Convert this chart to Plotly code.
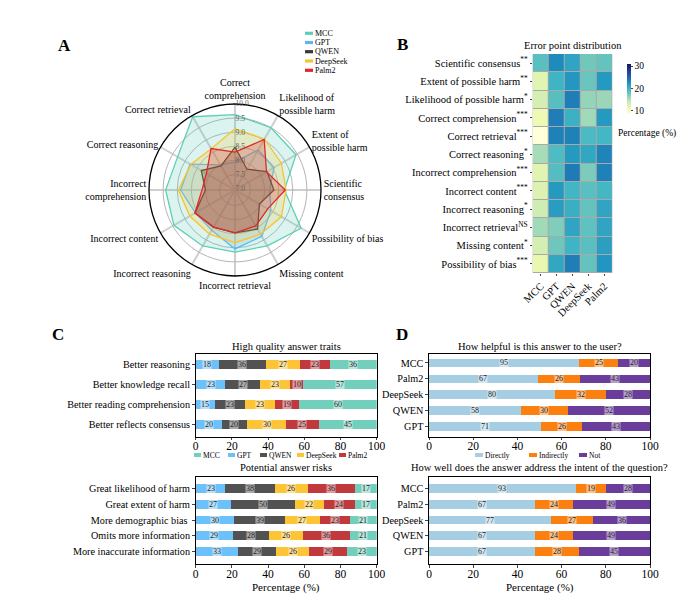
import plotly.graph_objects as go

# page body adds 8px margin; figure sized to fit the 693x612 window
OX, OY = 8, 8
W, H = 677, 596
SERIF = "Liberation Serif"


def X(px):
    return (px - OX) / W


def Y(py):
    return 1 - (py - OY) / H


# ---------------- Panel A data (radar) ----------------
models = ["MCC", "GPT", "QWEN", "DeepSeek", "Palm2"]
radar_categories = ["Correct<br>comprehension", "Likelihood of<br>possible harm", "Extent of<br>possible harm",
                    "Scientific<br>consensus", "Possibility of bias", "Missing content", "Incorrect retrieval",
                    "Incorrect reasoning", "Incorrect content", "Incorrect<br>comprehension",
                    "Correct reasoning", "Correct retrieval"]
radar_mcc = [9.62, 9.5, 9.45, 8.7, 9.66, 9.24, 9.15, 9.24, 9.45, 9.41, 9.3, 9.95]
radar_gpt = [7.94, 8.59, 8.55, 8.18, 8.42, 8.85, 9.04, 8.6, 8.57, 8.88, 8.79, 7.98]
radar_qwen = [8.47, 7.8, 8.26, 8.33, 7.95, 8.55, 8.47, 8.47, 8.59, 8.0, 8.33, 7.94]
radar_deepseek = [9.12, 9.04, 8.85, 8.76, 8.85, 8.76, 8.82, 8.76, 8.8, 8.96, 8.76, 8.64]
radar_palm2 = [8.29, 9.02, 8.24, 8.73, 8.29, 8.42, 8.47, 8.47, 8.59, 8.12, 8.12, 8.65]
radar_ticks = [7.0, 7.5, 8.0, 8.5, 9.0, 9.5, 10.0]

# ---------------- Panel B data (heatmap) ----------------
heat_rows = ["Scientific consensus<sup>**</sup>", "Extent of possible harm<sup>**</sup>",
             "Likelihood of possible harm<sup>*</sup>", "Correct comprehension<sup>***</sup>",
             "Correct retrieval<sup>***</sup>", "Correct reasoning<sup>*</sup>",
             "Incorrect comprehension<sup>***</sup>", "Incorrect content<sup>***</sup>",
             "Incorrect reasoning<sup>*</sup>", "Incorrect retrieval<sup>NS</sup>",
             "Missing content<sup>*</sup>", "Possibility of bias<sup>***</sup>"]
heat_mcc = [18.5, 12, 13, 11, 8.4, 15.3, 12, 12.5, 13.5, 15.5, 13, 11.4]
heat_gpt = [22.8, 19.8, 18.6, 23.5, 23.3, 19, 18.8, 21.8, 21.6, 16.8, 17.6, 20.8]
heat_qwen = [21, 22, 23.5, 20, 23.3, 21.8, 23.7, 19.6, 20.2, 21, 19.8, 23.5]
heat_deepseek = [17.5, 17.8, 16, 15.5, 19.2, 20.8, 17, 18.5, 18, 18.3, 18.5, 18]
heat_palm2 = [18, 21.8, 15.8, 21.8, 19.5, 23.2, 23.3, 19.5, 21, 21, 21.4, 22.1]
heat_ticks = [10, 20, 30]

# ---------------- Panel C data ----------------
bar_models = ["GPT", "QWEN", "DeepSeek", "Palm2", "MCC"]
traits_cats = ["Better reasoning", "Better knowledge recall", "Better reading comprehension", "Better reflects consensus"]
traits_gpt = [18, 23, 15, 20]
traits_qwen = [36, 27, 23, 20]
traits_deepseek = [27, 23, 23, 30]
traits_palm2 = [23, 10, 19, 25]
traits_mcc = [36, 57, 60, 45]

risks_cats = ["Great likelihood of harm", "Great extent of harm", "More demographic bias ",
              "Omits more information", "More inaccurate information"]
risks_gpt = [23, 27, 30, 29, 33]
risks_qwen = [38, 50, 39, 28, 29]
risks_deepseek = [26, 22, 27, 26, 26]
risks_palm2 = [36, 24, 23, 36, 29]
risks_mcc = [17, 17, 21, 21, 23]

# ---------------- Panel D data ----------------
d_models = ["MCC", "Palm2", "DeepSeek", "QWEN", "GPT"]
d_levels = ["Directly", "Indirectly", "Not"]
help_directly = [95, 67, 80, 58, 71]
help_indirectly = [25, 26, 32, 30, 26]
help_not = [20, 43, 28, 52, 43]
intent_directly = [93, 67, 77, 67, 67]
intent_indirectly = [19, 24, 27, 24, 28]
intent_not = [28, 49, 36, 49, 45]
pct_ticks = [0, 20, 40, 60, 80, 100]

# ---------------- styles ----------------
radar_line = {"MCC": "#5ecfb6", "GPT": "#5eb4f2", "QWEN": "#3a3a3a", "DeepSeek": "#f8c330", "Palm2": "#e0282c"}
radar_fill = {"MCC": "rgba(94,207,182,0.22)", "GPT": "rgba(94,180,242,0.22)", "QWEN": "rgba(70,70,70,0.3)",
              "DeepSeek": "rgba(248,195,48,0.22)", "Palm2": "rgba(224,40,44,0.25)"}
bar_color = {"MCC": "#72cfbc", "GPT": "#6cc1fb", "QWEN": "#525252", "DeepSeek": "#fdc536", "Palm2": "#c1393d"}
d_color = {"Directly": "#a6cee3", "Indirectly": "#fb8010", "Not": "#6a3d9a"}

fig = go.Figure()
annos = []
shapes = []

# ---- Radar ----
radar_vals = {"MCC": radar_mcc, "GPT": radar_gpt, "QWEN": radar_qwen, "DeepSeek": radar_deepseek, "Palm2": radar_palm2}
for m in models:
    v = radar_vals[m]
    fig.add_trace(go.Scatterpolar(
        r=v + [v[0]], theta=radar_categories + [radar_categories[0]], name=m, mode="lines",
        line=dict(color=radar_line[m], width=1.3), fill="toself", fillcolor=radar_fill[m],
        subplot="polar", showlegend=False))

# ---- Heatmap ----
heat_cols = [heat_mcc, heat_gpt, heat_qwen, heat_deepseek, heat_palm2]
z = [[heat_cols[j][i] for j in range(len(models))] for i in range(len(heat_rows))]
ylgnbu = [[0.0, "#ffffd9"], [0.125, "#edf8b1"], [0.25, "#c7e9b4"], [0.375, "#7fcdbb"], [0.5, "#41b6c4"],
          [0.625, "#1d91c0"], [0.75, "#225ea8"], [0.875, "#253494"], [1.0, "#081d58"]]
fig.add_trace(go.Heatmap(
    z=z, x=models, y=heat_rows, xaxis="x2", yaxis="y2", colorscale=ylgnbu, zmin=8.4, zmax=30.9,
    xgap=1, ygap=1, showscale=True,
    colorbar=dict(x=X(616.5), xanchor="left", y=Y(54), yanchor="top", len=70 / H, lenmode="fraction",
                  thickness=4, outlinewidth=0, tickvals=heat_ticks, ticks="outside", ticklen=2,
                  tickfont=dict(family=SERIF, size=9.5, color="black"))))
annos.append(dict(x=X(616), y=Y(134), xref="paper", yref="paper", text="Percentage (%)", showarrow=False,
                  xanchor="left", yanchor="middle", font=dict(family=SERIF, size=9.5, color="black")))


# ---- Stacked bars helper ----
def add_stack(cats, series, names, colors, xa, ya, width):
    totals = [sum(vals[i] for vals in series) for i in range(len(cats))]
    left = [0.0] * len(cats)
    for vals, nm in zip(series, names):
        pct = [vals[i] / totals[i] * 100 for i in range(len(cats))]
        fig.add_trace(go.Bar(x=pct, y=cats, orientation="h", name=nm, marker=dict(color=colors[nm], line=dict(width=0)),
                             width=width, xaxis=xa, yaxis=ya, showlegend=False))
        for i in range(len(cats)):
            annos.append(dict(x=left[i] + pct[i] / 2, y=cats[i], xref=xa, yref=ya, text=str(vals[i]), showarrow=False,
                              font=dict(family=SERIF, size=8, color="#222"), bgcolor="rgba(255,255,255,0.5)",
                              borderpad=0))
            left[i] += pct[i]


add_stack(traits_cats, [traits_gpt, traits_qwen, traits_deepseek, traits_palm2, traits_mcc], bar_models,
          bar_color, "x3", "y3", 0.45)
add_stack(risks_cats, [risks_gpt, risks_qwen, risks_deepseek, risks_palm2, risks_mcc], bar_models,
          bar_color, "x4", "y4", 0.55)
add_stack(d_models, [help_directly, help_indirectly, help_not], d_levels, d_color, "x5", "y5", 0.55)
add_stack(d_models, [intent_directly, intent_indirectly, intent_not], d_levels, d_color, "x6", "y6", 0.55)


# ---- Manual legends (swatch + label) ----
def legend_item(x_sw, y, color, label, fs, sw_w=8, sw_h=3.5):
    shapes.append(dict(type="rect", xref="paper", yref="paper", x0=X(x_sw), x1=X(x_sw + sw_w),
                       y0=Y(y + sw_h / 2), y1=Y(y - sw_h / 2), fillcolor=color, line=dict(width=0)))
    annos.append(dict(x=X(x_sw + sw_w + 1), y=Y(y), xref="paper", yref="paper", text=label, showarrow=False,
                      xanchor="left", yanchor="middle", borderpad=0, font=dict(family=SERIF, size=fs, color="black")))


for m, yy in zip(models, [33.3, 42.5, 51.7, 61, 70.3]):
    legend_item(305, yy, radar_line[m], m, 8, sw_w=8, sw_h=3.2)
for m, xx in zip(models, [194, 228, 260, 297, 339]):
    legend_item(xx, 455, bar_color[m], m, 7.5, sw_w=7, sw_h=4)
for lv, xx in zip(d_levels, [475, 529, 579]):
    legend_item(xx, 455, d_color[lv], lv, 7.5, sw_w=8, sw_h=4)

# ---- Layout ----
tickfont = dict(family=SERIF, size=10.2, color="black")


def bar_axes(xdom, ydom, yrange, anchor_x, anchor_y):
    xa = dict(domain=xdom, anchor=anchor_y, range=[0, 100], tickvals=pct_ticks, ticks="outside",
              ticklen=2.5, showline=True, linecolor="black", linewidth=1.2, mirror=True, showgrid=False, zeroline=False,
              tickfont=dict(family=SERIF, size=11.5, color="black"), automargin=False, ticklabelstandoff=-4)
    ya = dict(domain=ydom, anchor=anchor_x, range=yrange, ticks="outside", ticklen=2.5, showline=True,
              linecolor="black", linewidth=1.2, mirror=True, showgrid=False, tickfont=tickfont, automargin=False,
              type="category")
    return xa, ya


cx = [X(195.7), X(376.7)]
dx = [X(429), X(650)]
top_y = [Y(436.7), Y(354)]
bot_y = [Y(564.3), Y(476.7)]

x3, y3 = bar_axes(cx, top_y, [3.62, -0.52], "x3", "y3")
x4, y4 = bar_axes(cx, bot_y, [4.82, -0.76], "x4", "y4")
x5, y5 = bar_axes(dx, top_y, [4.62, -0.56], "x5", "y5")
x6, y6 = bar_axes(dx, bot_y, [4.82, -0.76], "x6", "y6")

fig.update_layout(
    width=W, height=H, margin=dict(l=0, r=0, t=0, b=0, autoexpand=False), paper_bgcolor="white",
    plot_bgcolor="white", font=dict(family=SERIF, color="black"), barmode="stack", showlegend=False,
    polar=dict(
        domain=dict(x=[X(235 - 86), X(235 + 86)], y=[Y(190 + 86), Y(190 - 86)]),
        bgcolor="white",
        angularaxis=dict(rotation=90, direction="clockwise", showline=True, linecolor="black", linewidth=1.3,
                         gridcolor="#cfcfcf", gridwidth=1.5, ticks="", tickfont=dict(family=SERIF, size=10, color="black")),
        radialaxis=dict(range=[6.95, 10], tickvals=radar_ticks, ticktext=["%.1f" % t for t in radar_ticks],
                        angle=90, tickangle=90, showline=False, gridcolor="#b5b5b5", gridwidth=1, ticks="",
                        tickfont=dict(family=SERIF, size=7.5, color="#666"))),
    xaxis2=dict(domain=[X(532.7), X(612.3)], anchor="y2", tickangle=-45, ticks="outside", ticklen=2,
                tickfont=dict(family=SERIF, size=10.5, color="black"), showgrid=False, zeroline=False, automargin=False),
    yaxis2=dict(domain=[Y(273), Y(54)], anchor="x2", autorange="reversed", ticks="outside", ticklen=2,
                tickfont=dict(family=SERIF, size=10.5, color="black"), showgrid=False, zeroline=False, automargin=False),
    xaxis3=x3, yaxis3=y3, xaxis4=x4, yaxis4=y4, xaxis5=x5, yaxis5=y5, xaxis6=x6, yaxis6=y6,
)

# grey backdrop behind heatmap cells (cell borders)
shapes.append(dict(type="rect", xref="x2 domain", yref="y2 domain", x0=0, x1=1, y0=0, y1=1,
                   fillcolor="#a9a9a9", line=dict(width=0), layer="below"))

# panel letters, titles and x-axis titles
title_font = dict(family=SERIF, size=10.5, color="black")
letter_font = dict(family=SERIF, size=17, color="black")
for txt, x, y in [("A", 64, 45), ("B", 403, 44), ("C", 58, 334), ("D", 402, 334)]:
    annos.append(dict(x=X(x), y=Y(y), xref="paper", yref="paper", text="<b>%s</b>" % txt, showarrow=False,
                      font=letter_font, xanchor="center", yanchor="middle"))
for txt, xr, yv in [("Error point distribution", "x2 domain", 46), ("High quality answer traits", "x3 domain", 346),
                    ("Potential answer risks", "x4 domain", 467.5), ("How helpful is this answer to the user?", "x5 domain", 346),
                    ("How well does the answer address the intent of the question?", "x6 domain", 467.5)]:
    annos.append(dict(x=0.5, y=Y(yv), xref=xr, yref="paper", text=txt, showarrow=False, font=title_font,
                      xanchor="center", yanchor="middle"))
for xr in ["x4 domain", "x6 domain"]:
    annos.append(dict(x=0.5, y=Y(587), xref=xr, yref="paper", text="Percentage (%)", showarrow=False,
                      font=dict(family=SERIF, size=11, color="black"), xanchor="center", yanchor="middle"))

fig.update_layout(annotations=annos, shapes=shapes)
fig.write_html("out.html")
